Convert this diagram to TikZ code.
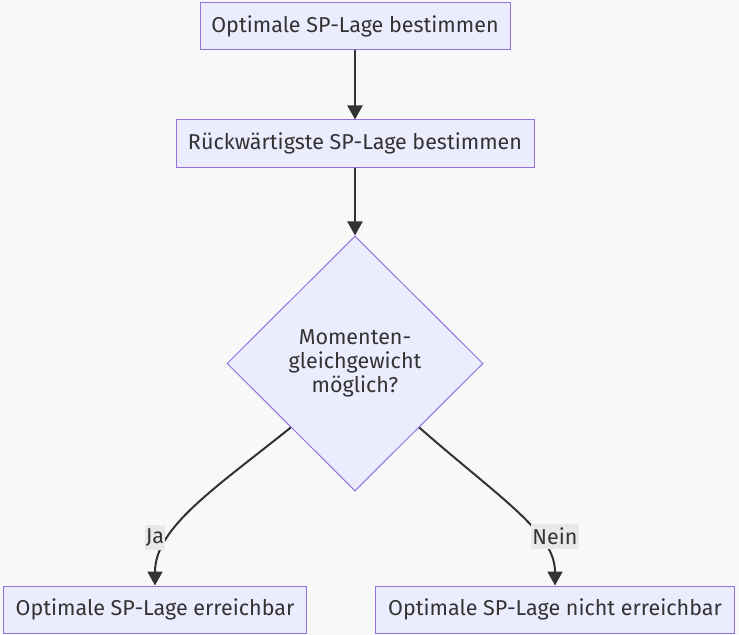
\documentclass[tikz,border=0pt]{standalone}
\usepackage{fontspec}
\setmainfont{Fira Sans}
\usetikzlibrary{arrows.meta,positioning,shapes.geometric}
\definecolor{nodefill}{HTML}{ECECFF}
\definecolor{nodeline}{HTML}{9370DB}
\definecolor{ink}{HTML}{333333}
\definecolor{canvas}{HTML}{F8F8F8}
\definecolor{lblfill}{HTML}{E8E8E8}

\begin{document}
\begin{tikzpicture}[
    x=1bp, y=-1bp,
    font=\fontsize{21.5bp}{24bp}\selectfont,
    box/.style={rectangle, draw=nodeline, fill=nodefill, text=ink, line width=1bp,
                minimum height=47bp, inner sep=0pt, align=center},
    decision/.style={diamond, draw=nodeline, fill=nodefill, text=ink, line width=1bp,
                minimum width=256bp, minimum height=255bp, inner sep=0pt, align=center},
    lbl/.style={fill=lblfill, text=ink, inner sep=1bp, minimum height=25bp},
    arr/.style={-{Triangle[length=14bp, width=15bp]}, ink, line width=2bp}
  ]
  \fill[canvas] (0,0) rectangle (739,635);
  \useasboundingbox (0,0) rectangle (739,635);

  \node[box, minimum width=310bp] (optimal) at (355,26.5) {Optimale SP-Lage bestimmen};
  \node[box, minimum width=358bp, below=69bp of optimal] (rueck) {Rückwärtigste SP-Lage bestimmen};
  \node[decision, below=68bp of rueck] (moment) {Momenten-\\gleichgewicht\\möglich?};
  \node[box, minimum width=303bp, below=94bp of moment, xshift=-200bp] (ja) {Optimale SP-Lage erreichbar};
  \node[box, minimum width=359bp, below=94bp of moment, xshift=200bp] (nein) {Optimale SP-Lage nicht erreichbar};

  \draw[arr] (optimal) -- (rueck);
  \draw[arr] (rueck) -- (moment);
  \draw[arr] (moment.south west) .. controls +(-76,61) and +(0,-58) .. (ja.north)
    node[lbl, pos=0.7, xshift=-15bp] {Ja};
  \draw[arr] (moment.south east) .. controls +(81,71) and +(0,-53) .. (nein.north)
    node[lbl, pos=0.7, xshift=14bp, yshift=5bp] {Nein};
\end{tikzpicture}
\end{document}
